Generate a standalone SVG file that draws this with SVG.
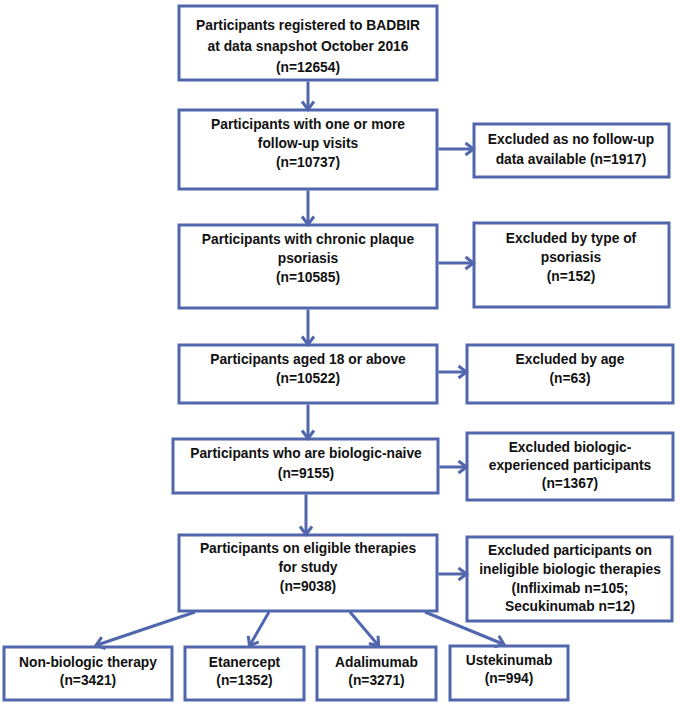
<svg xmlns="http://www.w3.org/2000/svg" width="680" height="707" viewBox="0 0 680 707">
<defs>
<marker id="ah" markerUnits="userSpaceOnUse" markerWidth="20" markerHeight="20" viewBox="-10 -10 20 20" refX="-1" refY="0" orient="auto">
<path d="M-8,-6 L0,0 L-8,6" fill="none" stroke="#5167ad" stroke-width="3" stroke-linejoin="miter"/>
</marker>
<style>
rect{fill:#fff;stroke:#5167ad;stroke-width:3}
text{font-family:"Liberation Sans",Arial,sans-serif;font-weight:bold;font-size:13.8px;fill:#111;text-anchor:middle}
.c line{stroke:#5167ad;stroke-width:3;marker-end:url(#ah)}
</style>
</defs>
<rect x="0" y="0" width="680" height="707" style="fill:#fff;stroke:none"/>
<g id="n1"><rect x="179" y="6" width="258" height="74"/>
<text x="308" y="30">Participants registered to BADBIR</text>
<text x="308" y="51">at data snapshot October 2016</text>
<text x="308" y="72">(n=12654)</text></g>
<g id="n2"><rect x="179" y="110" width="258" height="79"/>
<text x="308" y="129">Participants with one or more</text>
<text x="308" y="148">follow-up visits</text>
<text x="308" y="167">(n=10737)</text></g>
<g id="x2"><rect x="474" y="124" width="195" height="53"/>
<text x="571" y="144">Excluded as no follow-up</text>
<text x="571" y="164">data available (n=1917)</text></g>
<g id="n3"><rect x="179" y="225" width="258" height="83"/>
<text x="308" y="244">Participants with chronic plaque</text>
<text x="308" y="263">psoriasis</text>
<text x="308" y="282">(n=10585)</text></g>
<g id="x3"><rect x="474" y="223" width="195" height="84"/>
<text x="571" y="243">Excluded by type of</text>
<text x="571" y="262">psoriasis</text>
<text x="571" y="281">(n=152)</text></g>
<g id="n4"><rect x="179" y="345" width="258" height="58"/>
<text x="308" y="364">Participants aged 18 or above</text>
<text x="308" y="383">(n=10522)</text></g>
<g id="x4"><rect x="467" y="345" width="206" height="58"/>
<text x="570" y="364">Excluded by age</text>
<text x="570" y="383">(n=63)</text></g>
<g id="n5"><rect x="173" y="439" width="265" height="54"/>
<text x="306" y="458">Participants who are biologic-naive</text>
<text x="306" y="478">(n=9155)</text></g>
<g id="x5"><rect x="467" y="433" width="206" height="67"/>
<text x="570" y="452">Excluded biologic-</text>
<text x="570" y="470">experienced participants</text>
<text x="570" y="488">(n=1367)</text></g>
<g id="n6"><rect x="179" y="535" width="258" height="76"/>
<text x="308" y="553">Participants on eligible therapies</text>
<text x="308" y="572">for study</text>
<text x="308" y="591">(n=9038)</text></g>
<g id="x6"><rect x="467" y="537" width="205" height="84"/>
<text x="570" y="555">Excluded participants on</text>
<text x="570" y="574">ineligible biologic therapies</text>
<text x="570" y="593">(Infliximab n=105;</text>
<text x="570" y="611">Secukinumab n=12)</text></g>
<g id="b1"><rect x="4" y="647" width="168" height="53"/>
<text x="88" y="667">Non-biologic therapy</text>
<text x="88" y="685">(n=3421)</text></g>
<g id="b2"><rect x="185" y="647" width="119" height="53"/>
<text x="244.5" y="667">Etanercept</text>
<text x="244.5" y="685">(n=1352)</text></g>
<g id="b3"><rect x="317" y="647" width="119" height="53"/>
<text x="376.5" y="667">Adalimumab</text>
<text x="376.5" y="685">(n=3271)</text></g>
<g id="b4"><rect x="450" y="646" width="118" height="54"/>
<text x="509" y="665">Ustekinumab</text>
<text x="509" y="683">(n=994)</text></g>
<g id="connectors" class="c">
<line x1="308" y1="81.5" x2="308" y2="108.5"/>
<line x1="308" y1="190.5" x2="308" y2="223.5"/>
<line x1="308" y1="309.5" x2="308" y2="343.5"/>
<line x1="308" y1="404.5" x2="308" y2="437.5"/>
<line x1="306" y1="494.5" x2="306" y2="533.5"/>
<line x1="438.5" y1="149" x2="472.5" y2="149"/>
<line x1="438.5" y1="263" x2="472.5" y2="263"/>
<line x1="438.5" y1="372" x2="465.5" y2="372"/>
<line x1="439.5" y1="467" x2="465.5" y2="467"/>
<line x1="438.5" y1="574" x2="465.5" y2="574"/>
<line x1="195" y1="612" x2="97" y2="645"/>
<line x1="269" y1="612" x2="250" y2="645"/>
<line x1="350" y1="612" x2="378" y2="645"/>
<line x1="425" y1="612" x2="503" y2="644"/>
</g>
</svg>
